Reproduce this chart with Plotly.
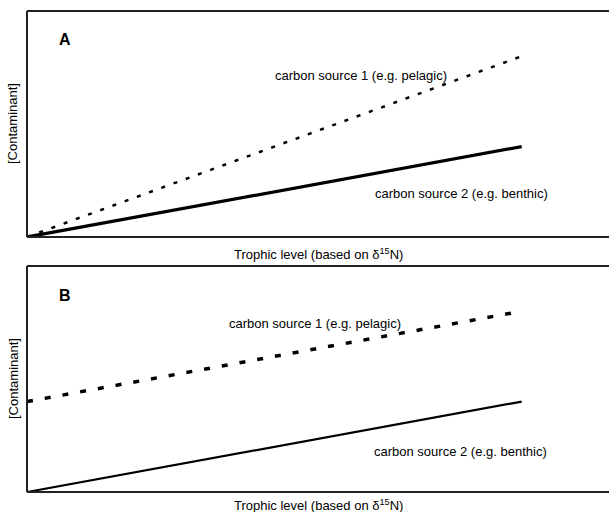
import plotly.graph_objects as go
from plotly.subplots import make_subplots

# ---- data (arbitrary units, as in the schematic) ----
trophic_level = [0, 85]
a_pelagic = [0, 80]
a_benthic = [0, 40]
b_pelagic = [40, 80]
b_benthic = [0, 40]

label_src1 = "carbon source 1 (e.g. pelagic)"
label_src2 = "carbon source 2 (e.g. benthic)"
x_title = "Trophic level (based on δ<sup>15</sup>N)"
y_title = "[Contaminant]"
panels = ["A", "B"]

W, H = 609, 512
ML, MR, MT, MB = 27, 0, 11, 20
PW, PH = W - ML - MR, H - MT - MB

def px(xpix):
    return (xpix - ML) / PW

def py(ypix):
    return (H - MB - ypix) / PH

fig = make_subplots(rows=2, cols=1, vertical_spacing=(266 - 237) / PH)
FONT = "Liberation Sans, Arial, Helvetica, sans-serif"

fig.add_trace(go.Scatter(x=trophic_level, y=a_pelagic, mode="lines",
                         line=dict(color="black", width=2.5, dash="4px,9px")), row=1, col=1)
fig.add_trace(go.Scatter(x=trophic_level, y=a_benthic, mode="lines",
                         line=dict(color="black", width=3.2)), row=1, col=1)
fig.add_trace(go.Scatter(x=trophic_level, y=b_pelagic, mode="lines",
                         line=dict(color="black", width=3.5, dash="6px,12px")), row=2, col=1)
fig.add_trace(go.Scatter(x=trophic_level, y=b_benthic, mode="lines",
                         line=dict(color="black", width=2.2)), row=2, col=1)

axis_common = dict(range=[0, 100], showgrid=False, zeroline=False, showticklabels=False,
                   ticks="", showline=False)
for r in (1, 2):
    fig.update_xaxes(row=r, col=1, **axis_common)
    fig.update_yaxes(row=r, col=1, **axis_common)

# frame: top, bottom and left edges of each panel (right edge lies off the page)
frame = dict(color="#222", width=2)
for xr, yr in (("x", "y"), ("x2", "y2")):
    xd, yd = f"{xr} domain", f"{yr} domain"
    fig.add_shape(type="line", xref=xd, yref=yd, x0=0, x1=1.02, y0=0, y1=0, line=frame)
    fig.add_shape(type="line", xref=xd, yref=yd, x0=0, x1=1.02, y0=1, y1=1, line=frame)
    fig.add_shape(type="line", xref=xd, yref=yd, x0=0, x1=0, y0=0, y1=1, line=frame)

annotations = []
panel_px = {"A": (11, 237), "B": (266, 492)}
text_pos = {
    "A": [(361, 75, label_src1), (461, 193, label_src2)],
    "B": [(315, 323, label_src1), (460, 451, label_src2)],
}
xtitle_y = {"A": 254, "B": 505}

def ann(x, y, text, size=13, angle=0):
    return dict(x=px(x), y=py(y), xref="paper", yref="paper", text=text,
                xanchor="center", yanchor="middle", textangle=angle, showarrow=False,
                font=dict(size=size, family=FONT, color="black"))

for p in panels:
    top, bot = panel_px[p]
    annotations.append(ann(65, top + 29, f"<b>{p}</b>", size=16))
    for (tx, ty, t) in text_pos[p]:
        annotations.append(ann(tx, ty, t))
    annotations.append(ann(318, xtitle_y[p], x_title))
    annotations.append(ann(13, (top + bot) / 2, y_title, angle=-90))

fig.update_layout(width=W, height=H, margin=dict(l=ML, r=MR, t=MT, b=MB),
                  paper_bgcolor="white", plot_bgcolor="white", showlegend=False,
                  annotations=annotations)

fig.write_html("out.html", config={"displayModeBar": False},
               post_script="document.body.style.margin='0';")
